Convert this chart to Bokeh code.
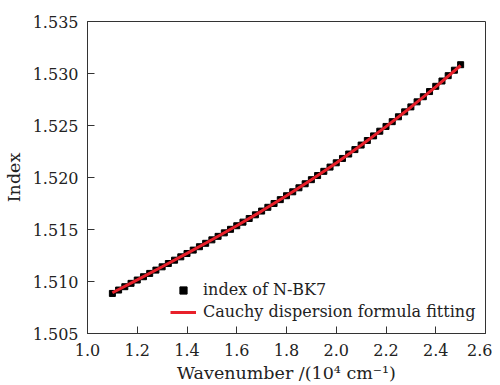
from bokeh.plotting import figure
from bokeh.models import Range1d, FixedTicker, NumeralTickFormatter, Legend, LegendItem
from bokeh.embed import file_html
from bokeh.resources import INLINE

# ---- data ----
wavenumber = [1.100, 1.125, 1.150, 1.175, 1.200, 1.225, 1.250, 1.275, 1.300, 1.325,
              1.350, 1.375, 1.400, 1.425, 1.450, 1.475, 1.500, 1.525, 1.550, 1.575,
              1.600, 1.625, 1.650, 1.675, 1.700, 1.725, 1.750, 1.775, 1.800, 1.825,
              1.850, 1.875, 1.900, 1.925, 1.950, 1.975, 2.000, 2.025, 2.050, 2.075,
              2.100, 2.125, 2.150, 2.175, 2.200, 2.225, 2.250, 2.275, 2.300, 2.325,
              2.350, 2.375, 2.400, 2.425, 2.450, 2.475, 2.500]
index_nbk7 = [1.508852, 1.509178, 1.509501, 1.509822, 1.510141, 1.510459, 1.510777, 1.511094,
              1.511412, 1.511730, 1.512050, 1.512371, 1.512693, 1.513018, 1.513344, 1.513673,
              1.514005, 1.514339, 1.514677, 1.515017, 1.515361, 1.515708, 1.516059, 1.516413,
              1.516772, 1.517134, 1.517501, 1.517872, 1.518247, 1.518626, 1.519010, 1.519399,
              1.519792, 1.520190, 1.520593, 1.521001, 1.521414, 1.521832, 1.522256, 1.522684,
              1.523118, 1.523557, 1.524002, 1.524453, 1.524909, 1.525370, 1.525838, 1.526311,
              1.526790, 1.527276, 1.527767, 1.528264, 1.528768, 1.529278, 1.529794, 1.530317,
              1.530846]

fit_wavenumber = [1.10, 1.20, 1.30, 1.40, 1.50, 1.60, 1.70, 1.80, 1.90, 2.00, 2.10, 2.20, 2.30, 2.40, 2.50]
fit_index = [1.50892, 1.51016, 1.51142, 1.51270, 1.51401, 1.51536, 1.51677, 1.51824, 1.51978,
             1.52140, 1.52310, 1.52489, 1.52676, 1.52872, 1.53077]

x_ticks = [1.0, 1.2, 1.4, 1.6, 1.8, 2.0, 2.2, 2.4, 2.6]
y_ticks = [1.505, 1.510, 1.515, 1.520, 1.525, 1.530, 1.535]

FONT = "DejaVu Serif"
AX = "#333333"

p = figure(frame_width=398, frame_height=312, output_backend="svg", toolbar_location=None,
           x_range=Range1d(1.0, 2.6), y_range=Range1d(1.505, 1.535),
           min_border_left=79, min_border_right=7, min_border_top=21, min_border_bottom=50)

p.xgrid.visible = False
p.ygrid.visible = False
p.outline_line_color = AX
p.outline_line_width = 1
p.outline_line_alpha = 1
p.background_fill_color = "white"
p.border_fill_color = "white"

r_pts = p.scatter(wavenumber, index_nbk7, marker="square", size=6,
                  fill_color="black", line_color="black")
r_fit = p.line(fit_wavenumber, fit_index, line_color="#e8202a", line_width=3)

p.xaxis.ticker = FixedTicker(ticks=x_ticks)
p.yaxis.ticker = FixedTicker(ticks=y_ticks)
p.xaxis.formatter = NumeralTickFormatter(format="0.0")
p.yaxis.formatter = NumeralTickFormatter(format="0.000")
p.xaxis.axis_label = "Wavenumber /(10\u2074 cm\u207b\u00b9)"
p.yaxis.axis_label = "Index"

for ax in (p.xaxis[0], p.yaxis[0]):
    ax.major_tick_in = 7
    ax.major_tick_out = 0
    ax.minor_tick_line_color = None
    ax.axis_line_color = AX
    ax.major_tick_line_color = AX
    ax.major_label_text_font = FONT
    ax.major_label_text_font_size = "16px"
    ax.major_label_text_color = "#222222"
    ax.axis_label_text_font = FONT
    ax.axis_label_text_font_size = "17.5px"
    ax.axis_label_text_font_style = "normal"
    ax.axis_label_text_color = "#222222"

p.xaxis.major_label_standoff = 10
p.yaxis.major_label_standoff = 9
p.xaxis.axis_label_standoff = 4
p.yaxis.axis_label_standoff = 6

legend = Legend(items=[LegendItem(label="index of N-BK7", renderers=[r_pts]),
                       LegendItem(label="Cauchy dispersion formula fitting", renderers=[r_fit])],
                location=(83, 12))
legend.border_line_color = None
legend.background_fill_alpha = 0
legend.padding = 0
legend.margin = 0
legend.spacing = 3
legend.glyph_width = 26
legend.glyph_height = 18
legend.label_height = 18
legend.label_standoff = 7
legend.label_text_font = FONT
legend.label_text_font_size = "16px"
legend.label_text_color = "#222222"
p.add_layout(legend)

open("out.html", "w").write(file_html(p, INLINE))
